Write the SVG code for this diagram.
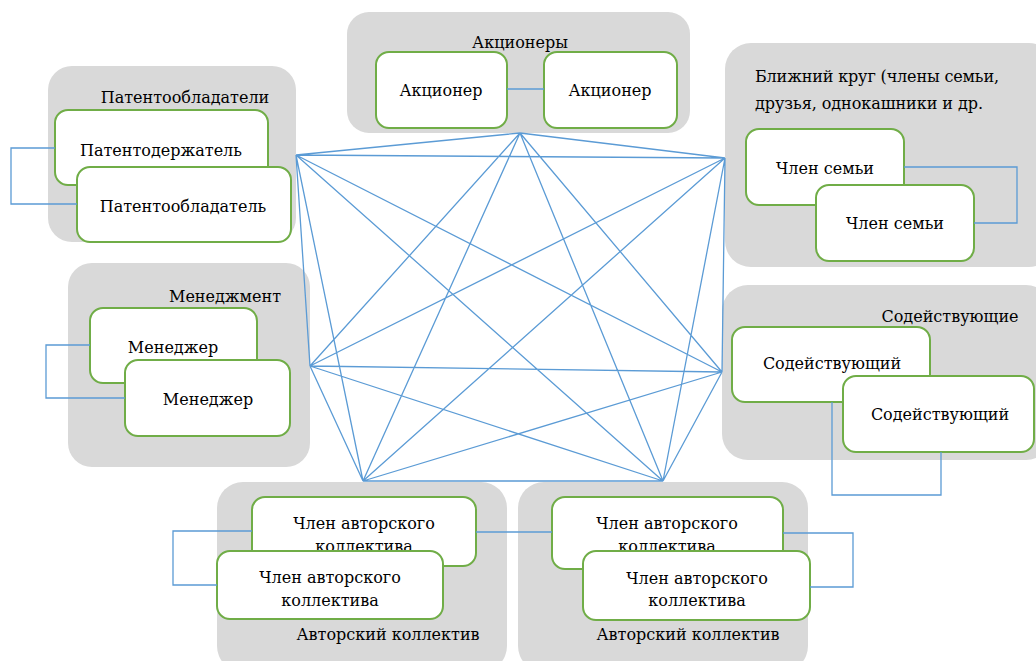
<svg xmlns="http://www.w3.org/2000/svg" width="1036" height="661" viewBox="0 0 1036 661">
<style>
.grp{fill:#d9d9d9;}
.node{fill:#ffffff;stroke:#70ad47;stroke-width:2;}
.t{font-family:"DejaVu Serif","Liberation Serif",serif;font-size:16px;fill:#000;}
.c{text-anchor:middle;}
.ln{fill:none;stroke:#5b9bd5;stroke-width:1.3;}
</style>
<rect x="0" y="0" width="1036" height="661" fill="#ffffff"/>

<g id="shareholders">
<rect class="grp" x="347" y="12" width="343" height="121" rx="22"/>
<text class="t c" x="520" y="48">Акционеры</text>
<g id="shareholder1"><rect class="node" x="376" y="52" width="131" height="76" rx="13"/><text class="t c" x="441" y="96">Акционер</text></g>
<g id="shareholder2"><rect class="node" x="544" y="52" width="133" height="76" rx="13"/><text class="t c" x="610" y="96">Акционер</text></g>
</g>

<g id="patentees">
<rect class="grp" x="48" y="66" width="248" height="176" rx="24"/>
<text class="t c" x="185" y="103">Патентообладатели</text>
<g id="patent-holder"><rect class="node" x="55" y="110" width="213" height="75" rx="13"/><text class="t c" x="161" y="156">Патентодержатель</text></g>
<g id="patentee"><rect class="node" x="77" y="167" width="214" height="75" rx="13"/><text class="t c" x="183" y="212">Патентообладатель</text></g>
</g>

<g id="close-circle">
<rect class="grp" x="725" y="43" width="330" height="224" rx="26"/>
<text class="t" x="755" y="82" textLength="244">Ближний круг (члены семьи,</text>
<text class="t" x="755" y="109" textLength="228">друзья, однокашники и др.</text>
<g id="family1"><rect class="node" x="746" y="129" width="158" height="76" rx="13"/><text class="t c" x="825" y="174">Член семьи</text></g>
<g id="family2"><rect class="node" x="816" y="185" width="158" height="76" rx="13"/><text class="t c" x="895" y="229">Член семьи</text></g>
</g>

<g id="management">
<rect class="grp" x="68" y="263" width="242" height="204" rx="24"/>
<text class="t c" x="225" y="302">Менеджмент</text>
<g id="manager1"><rect class="node" x="90" y="308" width="167" height="75" rx="13"/><text class="t c" x="173" y="353">Менеджер</text></g>
<g id="manager2"><rect class="node" x="125" y="360" width="165" height="76" rx="13"/><text class="t c" x="208" y="405">Менеджер</text></g>
</g>

<g id="assistants">
<rect class="grp" x="722" y="285" width="330" height="175" rx="26"/>
<text class="t c" x="950" y="322">Содействующие</text>
<g id="assistant1"><rect class="node" x="732" y="327" width="198" height="75" rx="13"/><text class="t c" x="832" y="369">Содействующий</text></g>
<g id="assistant2"><rect class="node" x="843" y="376" width="191" height="76" rx="13"/><text class="t c" x="940" y="420">Содействующий</text></g>
</g>

<g id="authors-left">
<rect class="grp" x="217" y="482" width="290" height="190" rx="26"/>
<g id="author-l1"><rect class="node" x="252" y="497" width="224" height="69" rx="13"/><text class="t c" x="364" y="529">Член авторского</text><text class="t c" x="364" y="552">коллектива</text></g>
<g id="author-l2"><rect class="node" x="217" y="551" width="226" height="68" rx="13"/><text class="t c" x="330" y="583">Член авторского</text><text class="t c" x="330" y="606">коллектива</text></g>
<text class="t c" x="388" y="640">Авторский коллектив</text>
</g>

<g id="authors-right">
<rect class="grp" x="518" y="482" width="290" height="190" rx="26"/>
<g id="author-r1"><rect class="node" x="552" y="497" width="231" height="72" rx="13"/><text class="t c" x="667" y="529">Член авторского</text><text class="t c" x="667" y="552">коллектива</text></g>
<g id="author-r2"><rect class="node" x="583" y="551" width="227" height="69" rx="13"/><text class="t c" x="697" y="584">Член авторского</text><text class="t c" x="697" y="606">коллектива</text></g>
<text class="t c" x="688" y="640">Авторский коллектив</text>
</g>

<g id="connectors">
<path class="ln" d="M507,89 H544"/>
<path class="ln" d="M55,148 H11 V204 H77"/>
<path class="ln" d="M904,167 H1017 V223 H974"/>
<path class="ln" d="M90,345 H46 V398 H125"/>
<path class="ln" d="M832,402 V495 H941 V452"/>
<path class="ln" d="M252,531 H173 V585 H217"/>
<path class="ln" d="M476,532 H552"/>
<path class="ln" d="M783,533 H853 V587 H810"/>
<path class="ln" d="M520,133 L296,155 M520,133 L725,158 M520,133 L310,366 M520,133 L722,372 M520,133 L363,481 M520,133 L663,481
M296,155 L725,158 M296,155 L310,366 M296,155 L722,372 M296,155 L363,481 M296,155 L663,481
M725,158 L310,366 M725,158 L722,372 M725,158 L363,481 M725,158 L663,481
M310,366 L722,372 M310,366 L363,481 M310,366 L663,481
M722,372 L363,481 M722,372 L663,481
M363,481 L663,481"/>
</g>
</svg>
